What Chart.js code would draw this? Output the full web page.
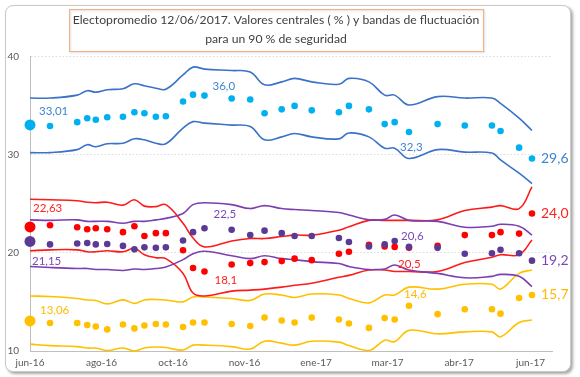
<!DOCTYPE html>
<html>
<head>
<meta charset="utf-8">
<title>Electopromedio 12/06/2017</title>
<script src="https://cdn.jsdelivr.net/npm/chart.js@4.4.0/dist/chart.umd.min.js"></script>
<style>
    html, body { margin: 0; padding: 0; background: #fff; }
    #wrap { position: relative; width: 580px; height: 377px; overflow: hidden; }
    #frame {
        position: absolute; left: 5px; top: 5px; width: 564px; height: 365px;
        border: 1px solid #c9c9c9; border-radius: 8px; background: #fff;
        box-shadow: 2px 2px 3px rgba(0, 0, 0, 0.35);
    }
    #chart { position: absolute; left: 0; top: 0; }
</style>
</head>
<body>
<div id="wrap">
    <div id="frame"></div>
    <canvas id="chart" width="580" height="377"></canvas>
</div>
<script>
"use strict"

// x axis starts on election day, one tick every 50 days
const startDate = "2016-06-26";
const axisEndDays = 365;
const tickStepDays = 50;
const tickLabels = ["jun-16", "ago-16", "oct-16", "nov-16", "ene-17", "mar-17", "abr-17", "jun-17"];

const dates = [
    "2016-06-26", "2016-07-10", "2016-07-29", "2016-08-05", "2016-08-11", "2016-08-19",
    "2016-08-30", "2016-09-07", "2016-09-14", "2016-09-22", "2016-09-29", "2016-10-11",
    "2016-10-18", "2016-10-26", "2016-11-14", "2016-11-27", "2016-12-07", "2016-12-19",
    "2016-12-28", "2017-01-09", "2017-01-28", "2017-02-04", "2017-02-18", "2017-03-01",
    "2017-03-08", "2017-03-18", "2017-04-07", "2017-04-26", "2017-05-15", "2017-05-21",
    "2017-06-03", "2017-06-12"
];

const ppValues = [33.01, 32.9, 33.3, 33.7, 33.55, 33.8, 33.85, 34.3, 34.2, 33.85, 33.9, 35.4, 36.1, 36.0, 35.7, 35.6,
    34.2, 34.6, 34.95, 34.5, 34.3, 34.95, 34.6, 33.1, 33.3, 32.3, 33.1, 32.95, 32.95, 32.4, 30.7, 29.6];
const ppUpper = [35.75, 35.75, 36.05, 36.5, 36.35, 36.6, 36.7, 37.2, 37.0, 36.75, 36.65, 38.1, 38.9, 38.7, 38.55, 38.4,
    37.1, 37.4, 37.75, 37.4, 37.15, 37.75, 37.4, 36.05, 36.05, 35.05, 35.9, 35.75, 35.75, 35.2, 33.7, 32.45];
const ppLower = [30.2, 30.2, 30.5, 31.0, 30.8, 31.1, 31.15, 31.6, 31.5, 31.15, 31.1, 32.7, 33.35, 33.2, 33.0, 32.85,
    31.5, 31.8, 32.15, 31.8, 31.6, 32.2, 31.8, 30.65, 30.65, 29.6, 30.5, 30.25, 30.15, 29.45, 28.1, 27.05];

const psoeValues = [22.63, 22.8, 22.6, 22.4, 22.5, 22.4, 22.1, 22.7, 21.7, 22.0, 22.0, 20.25, 18.45, 18.1, 18.8, 18.95,
    19.05, 19.15, 19.4, 19.25, 19.9, 20.1, 20.8, 20.65, 20.6, 20.5, 20.7, 21.8, 21.8, 22.1, 21.95, 24.0];
const psoeUpper = [25.45, 25.4, 25.3, 25.15, 25.1, 25.15, 24.85, 25.4, 24.75, 24.7, 24.9, 23.0, 21.5, 20.6, 21.2, 21.45,
    21.45, 21.65, 21.8, 21.8, 22.3, 22.65, 23.3, 23.3, 23.3, 23.3, 23.35, 24.3, 24.65, 24.8, 24.5, 26.7];
const psoeLower = [20.2, 20.3, 20.3, 20.1, 20.1, 20.2, 20.1, 20.45, 19.8, 19.5, 19.4, 17.9, 15.9, 15.6, 16.1, 16.2,
    16.3, 16.5, 16.7, 16.9, 17.5, 17.7, 18.25, 18.25, 18.1, 18.1, 18.1, 19.0, 19.55, 19.8, 19.8, 21.3];

const upValues = [21.15, 20.85, 20.95, 21.0, 20.85, 20.9, 20.7, 20.35, 20.55, 20.5, 20.55, 21.25, 22.1, 22.5, 22.35, 21.8,
    22.25, 22.0, 21.7, 21.7, 21.5, 21.1, 20.65, 20.85, 21.2, 20.6, 20.5, 19.9, 19.95, 20.3, 19.95, 19.2];
const upUpper = [23.35, 23.3, 23.35, 23.2, 23.2, 23.2, 23.0, 23.2, 23.2, 23.35, 23.5, 24.0, 24.9, 25.1, 24.9, 24.5,
    24.8, 24.5, 24.4, 24.3, 24.1, 23.85, 23.35, 23.4, 23.85, 23.3, 23.2, 22.6, 22.7, 22.9, 22.7, 21.8];
const upLower = [18.6, 18.5, 18.4, 18.4, 18.3, 18.3, 18.2, 18.35, 18.3, 18.4, 18.55, 19.3, 19.9, 20.15, 19.7, 19.4,
    19.7, 19.4, 19.3, 19.1, 18.9, 18.6, 18.3, 18.35, 18.75, 18.25, 17.9, 17.45, 17.6, 17.8, 17.6, 16.55];

const csValues = [13.06, 12.85, 12.85, 12.65, 12.5, 12.2, 12.7, 12.3, 12.6, 12.75, 12.7, 12.45, 12.9, 12.9, 12.75, 12.55,
    13.4, 13.1, 12.9, 13.4, 13.2, 12.8, 12.35, 13.35, 13.2, 14.6, 13.75, 14.25, 14.25, 13.8, 15.4, 15.7];
const csUpper = [15.6, 15.55, 15.35, 15.2, 15.15, 14.8, 15.2, 14.85, 15.2, 15.25, 15.2, 15.0, 15.5, 15.5, 15.35, 15.15,
    15.8, 15.7, 15.45, 15.8, 15.7, 15.35, 14.9, 15.7, 15.7, 16.5, 16.3, 16.8, 16.8, 16.3, 17.9, 18.25];
const csLower = [10.7, 10.55, 10.45, 10.3, 10.3, 10.05, 10.3, 10.0, 10.3, 10.4, 10.35, 10.1, 10.6, 10.6, 10.45, 10.2,
    11.0, 10.8, 10.6, 11.0, 10.9, 10.55, 10.05, 11.1, 10.95, 12.1, 11.75, 11.95, 11.95, 11.45, 12.9, 13.15];

// which points get a value written next to them
const ppLabelled = [0, 13, 25, 31];
const psoeLabelled = [0, 13, 25, 31];
const upLabelled = [0, 13, 25, 31];
const csLabelled = [0, 25, 31];

const titleLines = [
    "Electopromedio 12/06/2017. Valores centrales ( % ) y bandas de fluctuación",
    "para un 90 % de seguridad"
];

const FONT = "Lato, 'Open Sans', sans-serif";

function dayOf(d) {
    return (Date.parse(d) - Date.parse(startDate)) / 864e5;
}
const days = dates.map(dayOf);

function toPoints(values) {
    return values.map((v, i) => ({ x: days[i], y: v }));
}

// order of this list = drawing order of the dots (first on top)
const parties = [
    { name: "UP", values: upValues, upper: upUpper, lower: upLower, labelled: upLabelled,
      dot: "#5B3A96", line: "#7B3FB0", text: "#7A48B8",
      offsets: [[2, 20], [9, -14], [-8, -11], [9, 0]] },
    { name: "PSOE", values: psoeValues, upper: psoeUpper, lower: psoeLower, labelled: psoeLabelled,
      dot: "#FF0000", line: "#FF1A1A", text: "#FF2020",
      offsets: [[3, -19], [10, 9], [-11, 16], [9, 0]] },
    { name: "PP", values: ppValues, upper: ppUpper, lower: ppLower, labelled: ppLabelled,
      dot: "#00B0F0", line: "#3A72C8", text: "#3C86D0",
      offsets: [[9, -14], [8, -9], [-9, 15], [9, 0]] },
    { name: "Cs", values: csValues, upper: csUpper, lower: csLower, labelled: csLabelled,
      dot: "#FFC000", line: "#FFC000", text: "#FFBA00",
      offsets: [[10, -11], [-5, -12], [9, -1]] }
];

function buildDatasets() {
    const sets = [];
    parties.forEach(p => {
        sets.push({
            label: p.name,
            data: toPoints(p.values),
            showLine: false,
            pointRadius: ctx => ctx.dataIndex === 0 ? 5.5 : 3.3,
            pointBackgroundColor: p.dot,
            pointBorderWidth: 0,
            clip: false,
            order: 0
        });
    });
    parties.forEach(p => {
        [p.upper, p.lower].forEach((band, k) => {
            sets.push({
                label: p.name + (k === 0 ? " sup" : " inf"),
                data: toPoints(band),
                showLine: true,
                borderColor: p.line,
                borderWidth: 1.6,
                tension: 0.4,
                pointRadius: 0,
                fill: false,
                clip: false,
                order: 1
            });
        });
    });
    return sets;
}

function formatValue(v, idx) {
    return v.toFixed(idx === 0 ? 2 : 1).replace(".", ",");
}

const valueLabels = {
    id: "valueLabels",
    afterDatasetsDraw(chart) {
        const ctx = chart.ctx;
        ctx.save();
        ctx.textBaseline = "middle";
        ctx.textAlign = "left";
        parties.forEach((p, di) => {
            const meta = chart.getDatasetMeta(di);
            p.labelled.forEach((idx, k) => {
                const pt = meta.data[idx];
                const last = idx === p.values.length - 1;
                ctx.font = (last ? "14px " : "11.5px ") + FONT;
                ctx.fillStyle = p.text;
                const [dx, dy] = p.offsets[k];
                ctx.fillText(formatValue(p.values[idx], idx), pt.x + dx, pt.y + dy);
            });
        });
        ctx.restore();
    }
};

// orange box round the title
const titleBox = {
    id: "titleBox",
    afterDraw(chart) {
        const tb = chart.titleBlock;
        const opts = chart.options.plugins.title;
        const ctx = chart.ctx;
        ctx.save();
        ctx.font = opts.font.size + "px " + FONT;
        const w = Math.max(...titleLines.map(t => ctx.measureText(t).width)) + 8;
        const cx = (tb.left + tb.right) / 2;
        const top = tb.top + opts.padding.top - 2;
        const h = titleLines.length * opts.font.size * opts.font.lineHeight + 4;
        ctx.shadowColor = "rgba(0,0,0,0.18)";
        ctx.shadowBlur = 2;
        ctx.shadowOffsetX = 1;
        ctx.shadowOffsetY = 1;
        ctx.strokeStyle = "#F4B183";
        ctx.lineWidth = 1;
        ctx.strokeRect(Math.round(cx - w / 2) + 0.5, Math.round(top) + 0.5, Math.round(w), Math.round(h));
        ctx.restore();
    }
};

new Chart(document.getElementById("chart"), {
    type: "scatter",
    data: { datasets: buildDatasets() },
    plugins: [valueLabels, titleBox],
    options: {
        responsive: false,
        animation: false,
        layout: { padding: { top: 0, left: 0, right: 28, bottom: 6 } },
        plugins: {
            legend: { display: false },
            tooltip: { enabled: false },
            title: {
                display: true,
                text: titleLines,
                color: "#404040",
                font: { family: FONT, size: 12.2, weight: "normal", lineHeight: 1.55 },
                padding: { top: 10.5, bottom: 8 }
            }
        },
        scales: {
            x: {
                type: "linear",
                min: 0,
                max: axisEndDays,
                afterBuildTicks: scale => {
                    scale.ticks = tickLabels.map((_, i) => ({ value: i * tickStepDays }));
                },
                afterFit: scale => { scale.height = 20; },
                ticks: {
                    callback: (value, i) => tickLabels[i],
                    autoSkip: false,
                    maxRotation: 0,
                    color: "#595959",
                    font: { family: FONT, size: 10 },
                    padding: 6
                },
                grid: { display: false, drawTicks: false },
                border: { display: true, color: "#BFBFBF", width: 1 }
            },
            y: {
                min: 10,
                max: 40,
                afterFit: scale => { scale.width = 30; },
                ticks: {
                    stepSize: 10,
                    color: "#595959",
                    font: { family: FONT, size: 10 },
                    padding: 11
                },
                grid: { color: "#DDDDDD", drawTicks: false, lineWidth: 1 },
                border: { display: true, color: "#BFBFBF", width: 1, dash: [1.5, 2] }
            }
        }
    }
});
</script>
</body>
</html>
